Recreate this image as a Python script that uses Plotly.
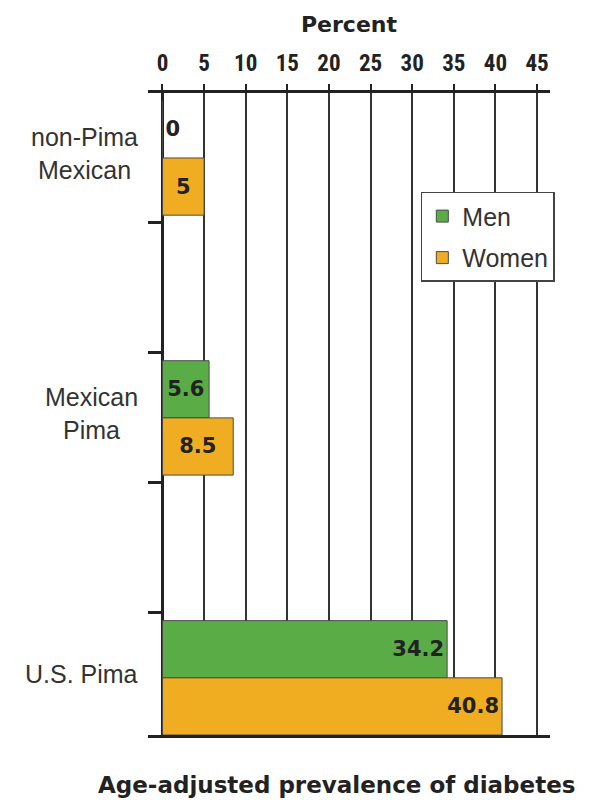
import plotly.graph_objects as go

# ---- data ----
categories = ["non-Pima<br>Mexican", "Mexican<br>Pima", "U.S. Pima"]
men = [0, 5.6, 34.2]
women = [5, 8.5, 40.8]
x_ticks = [0, 5, 10, 15, 20, 25, 30, 35, 40, 45]

series = [("Men", men, "#5aac46"), ("Women", women, "#f0ad22")]
ypos = list(range(len(categories)))
LONG = 20  # values above this get their label at the bar end

BOLD_WIDE = "DejaVu Sans, Liberation Sans, sans-serif"
REGULAR = "Liberation Sans, Arial, sans-serif"
CONDENSED = "Liberation Sans Narrow, Roboto Condensed, DejaVu Sans Condensed, sans-serif"

fig = go.Figure()
for name, vals, color in series:
    short_idx = [i for i, v in enumerate(vals) if v <= LONG]
    long_idx = [i for i, v in enumerate(vals) if v > LONG]
    first = True
    for idx, anchor in ((short_idx, "middle"), (long_idx, "end")):
        if not idx:
            continue
        fig.add_trace(go.Bar(
            name=name,
            orientation="h",
            y=[ypos[i] for i in idx],
            x=[vals[i] for i in idx],
            text=[f"{vals[i]:g}" for i in idx],
            textposition=["outside" if vals[i] == 0 else "inside" for i in idx],
            insidetextanchor=anchor,
            textfont=dict(family=BOLD_WIDE, size=21, color="#222222", weight="bold"),
            cliponaxis=False,
            marker=dict(color=color, line=dict(color="#4a4a4a", width=1)),
            offsetgroup=name,
            legendgroup=name,
            showlegend=first,
            hoverinfo="skip",
        ))
        first = False

# tick marks between category groups on the left axis
half = 0.25
cat_ticks = []
for p in ypos:
    for t in (p - half, p + half):
        if ypos[0] - half < t < ypos[-1] + half:
            cat_ticks.append(t)

fig.update_layout(
    width=582, height=794,
    margin=dict(l=140, r=40, t=85, b=67),
    paper_bgcolor="white", plot_bgcolor="white",
    barmode="group", bargap=0.56, bargroupgap=0,
    font=dict(family=REGULAR, color="#333333"),
    xaxis=dict(
        side="top",
        range=[-1.74, 46.56],
        tickvals=x_ticks,
        ticktext=[str(t) for t in x_ticks],
        tickfont=dict(family=CONDENSED, size=23, color="#222222", weight="bold"),
        ticks="outside", ticklen=6, tickwidth=1.5, tickcolor="#222222",
        ticklabelstandoff=4,
        showline=True, linewidth=3, linecolor="#222222", mirror=True,
        showgrid=True, gridcolor="#333333", gridwidth=1.5,
        zeroline=True, zerolinecolor="#222222", zerolinewidth=3,
        title=dict(text="Percent", standoff=12,
                   font=dict(family=BOLD_WIDE, size=22, color="#222222", weight="bold")),
        fixedrange=True,
    ),
    yaxis=dict(
        range=[ypos[-1] + 0.22, ypos[0] - 0.25],
        tickvals=cat_ticks,
        ticktext=["" for _ in cat_ticks],
        ticks="inside", ticklen=15, tickwidth=3, tickcolor="#222222",
        showline=False, showgrid=False, zeroline=False,
        fixedrange=True,
    ),
    legend=dict(
        x=1.012, xanchor="right", y=0.846, yanchor="top",
        bgcolor="white", bordercolor="#444444", borderwidth=1.5,
        font=dict(family=REGULAR, size=25, color="#333333"),
        traceorder="grouped", tracegroupgap=6,
    ),
    showlegend=True,
)

for p, label in zip(ypos, categories):
    fig.add_annotation(
        text=label, x=-0.02, xref="paper", y=p, yref="y", yshift=4,
        xanchor="right", yanchor="middle", align="center", showarrow=False,
        font=dict(family=REGULAR, size=25, color="#333333"),
    )

fig.add_annotation(
    text="Age-adjusted prevalence of diabetes",
    x=0.470, xref="paper", y=-0.078, yref="paper",
    xanchor="center", yanchor="middle", showarrow=False,
    font=dict(family=BOLD_WIDE, size=23, color="#222222", weight="bold"),
)

fig.write_html("out.html")
